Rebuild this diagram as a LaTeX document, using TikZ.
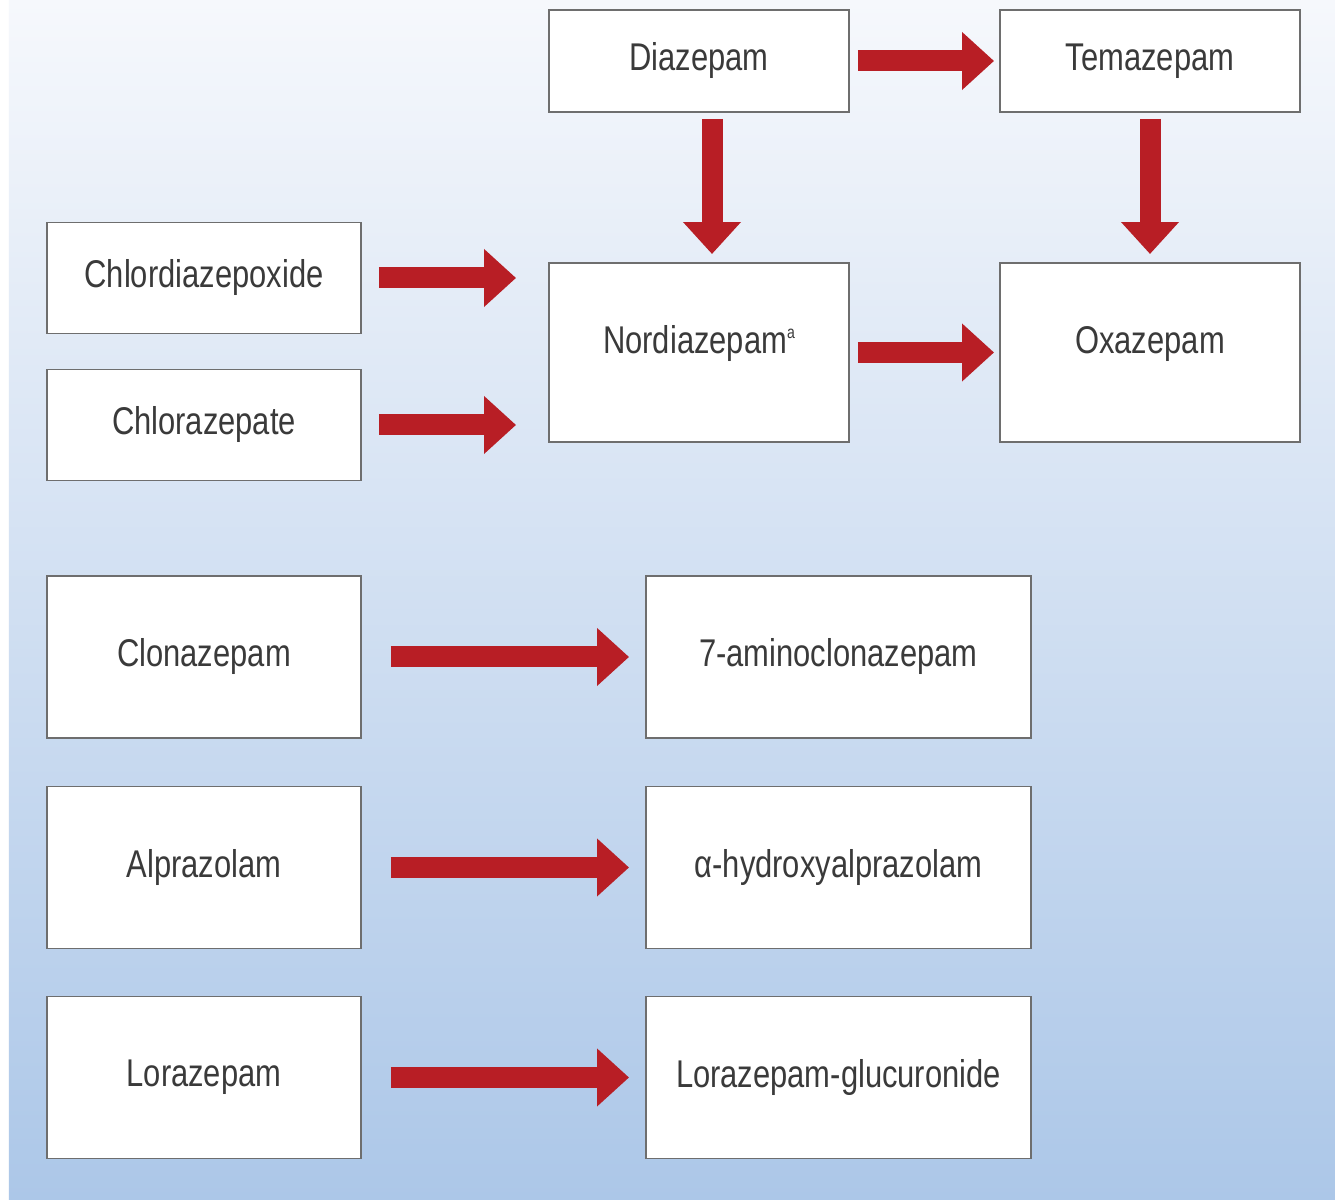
\documentclass[tikz,border=0pt]{standalone}
\usepackage{fontspec}
\setmainfont{Liberation Sans}[FakeStretch=0.8]
\usepackage{tikz}
\usetikzlibrary{
  arrows.meta,
  calc,
  positioning
}
\definecolor{benzoRed}{HTML}{B81E25}
\definecolor{benzoGray}{HTML}{6E6E6E}
\definecolor{benzoText}{HTML}{3A3A3A}
\definecolor{benzoSkyTop}{HTML}{F6F8FC}
\definecolor{benzoSkyBottom}{HTML}{ACC7E8}
\tikzset{
  drugBox/.style={
    draw=benzoGray,
    line width=1.1pt,
    fill=white,
    align=center,
    text=benzoText,
    font=\fontsize{22}{26}\selectfont,
    inner sep=0pt,
    minimum width=6cm,
    minimum height=2.04cm
  },
  sideBox/.style={drugBox, minimum width=6.28cm, minimum height=2.22cm},
  tallBox/.style={drugBox, minimum height=3.58cm, text depth=0.5cm},
  parentBox/.style={drugBox, minimum width=6.28cm, minimum height=3.24cm},
  metabBox/.style={drugBox, minimum width=7.7cm, minimum height=3.24cm},
  metabArrow/.style={
    benzoRed,
    line width=0.42cm,
    -{Triangle[length=0.64cm, width=1.12cm]}
  }
}

\begin{document}
\begin{tikzpicture}[x=1cm,y=1cm]
  \useasboundingbox (0,0) rectangle (26.7,24);
  % backdrop
  \fill[white] (0,0) rectangle (0.18,24);
  \shade[top color=benzoSkyTop, bottom color=benzoSkyBottom]
    (0.18,0) rectangle (26.7,24);

  % diazepam family
  \node[drugBox] (dia) at (13.98,22.78) {Diazepam};
  \node[drugBox] (tem) at (23.00,22.78) {Temazepam};
  \node[sideBox] (chl) at (4.08,18.44) {Chlordiazepoxide};
  \node[sideBox] (chz) at (4.08,15.50) {Chlorazepate};
  \node[tallBox] (nor) at (13.98,16.95)
    {Nordiazepam\raisebox{0.3cm}{\fontsize{10}{10}\selectfont a}};
  \node[tallBox] (oxa) at (23.00,16.95) {Oxazepam};

  % single-step drugs
  \node[parentBox] (clo) at (4.08,10.86) {Clonazepam};
  \node[metabBox] (ami) at (16.77,10.86) {7-aminoclonazepam};
  \node[parentBox] (alp) at (4.08,6.65) {Alprazolam};
  \node[metabBox] (hyd) at (16.77,6.65) {α-hydroxyalprazolam};
  \node[parentBox] (lor) at (4.08,2.45) {Lorazepam};
  \node[metabBox] (glu) at (16.77,2.45) {Lorazepam-glucuronide};

  \draw[metabArrow, shorten <=0.16cm, shorten >=0.1cm] (dia) -- (tem);
  \draw[metabArrow, shorten <=0.12cm, shorten >=0.16cm]
    ($(dia.south)+(0.26,0)$) -- ($(nor.north)+(0.26,0)$);
  \draw[metabArrow, shorten <=0.12cm, shorten >=0.16cm] (tem) -- (oxa);
  \draw[metabArrow, shorten <=0.34cm, shorten >=0.64cm]
    (chl.east) -- (chl.east -| nor.west);
  \draw[metabArrow, shorten <=0.34cm, shorten >=0.64cm]
    (chz.east) -- (chz.east -| nor.west);
  \draw[metabArrow, shorten <=0.16cm, shorten >=0.1cm] (nor) -- (oxa);

  \draw[metabArrow, shorten <=0.58cm, shorten >=0.32cm] (clo) -- (ami);
  \draw[metabArrow, shorten <=0.58cm, shorten >=0.32cm] (alp) -- (hyd);
  \draw[metabArrow, shorten <=0.58cm, shorten >=0.32cm] (lor) -- (glu);
\end{tikzpicture}
\end{document}
